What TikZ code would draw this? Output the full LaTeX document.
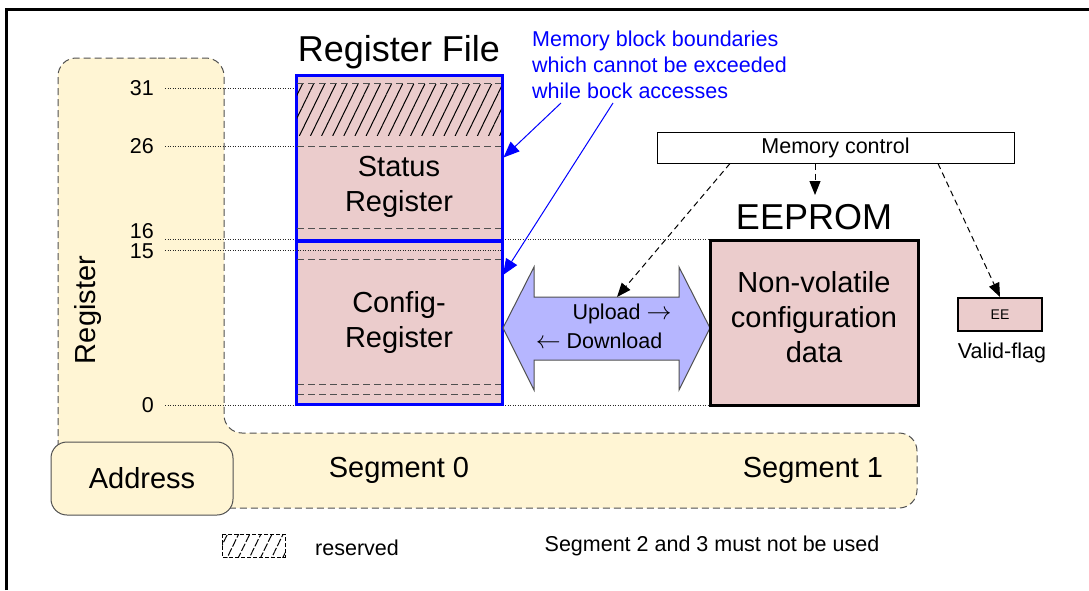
\documentclass[tikz,border=0pt]{standalone}
\usepackage{fontspec}
\setmainfont{Liberation Sans}
\usetikzlibrary{arrows.meta,patterns.meta}
\definecolor{regpink}{RGB}{235,204,204}
\definecolor{segyellow}{RGB}{255,245,212}
\definecolor{buslilac}{RGB}{182,182,255}
\definecolor{linegray}{RGB}{80,80,80}

\begin{document}
\begin{tikzpicture}[x=1pt, y=-1pt,
    every node/.style={inner sep=0pt},
    huge/.style={font=\fontsize{36}{40}\selectfont},
    large/.style={font=\fontsize{29}{35}\selectfont},
    small/.style={font=\fontsize{21.5}{26}\selectfont},
    tiny/.style={font=\fontsize{14}{16}\selectfont},
    segarea/.style={draw=linegray, fill=segyellow, line width=1pt, dash pattern=on 7pt off 4pt, rounded corners=18pt},
    regblock/.style={draw=blue, line width=3pt, fill=regpink, minimum width=206pt},
    sepline/.style={draw=linegray, line width=1pt, dash pattern=on 7pt off 4pt},
    dimline/.style={draw=black!85, line width=1pt, dash pattern=on 1pt off 1.5pt},
    hatch/.style={pattern={Lines[angle=64, distance=10pt, line width=1pt]}},
    note/.style={draw=blue, line width=1pt, -{Triangle[length=16pt, width=13pt]}},
    ctrl/.style={draw=black, line width=1pt, dash pattern=on 6pt off 4pt, -{Triangle[length=14pt, width=11pt]}}]
    \useasboundingbox (0,0) rectangle (1089,590);
    % outer frame
    \draw[line width=3pt] (6,590) -- (6,9) -- (1089,9);

    % segments
    \draw[segarea] (140,58) -- (224,58) -- (224,433) -- (917,433) -- (917,508) -- (58,508) -- (58,58) -- cycle;
    \node[draw=linegray, fill=segyellow, line width=1pt, rounded corners=16pt, minimum width=182pt, minimum height=73pt, large] (addr) at (142,478.5) {Address};
    \node[large] (seg0) at (399,470) {Segment 0};
    \node[large] (seg1) at (813,470) {Segment 1};
    \node[large, rotate=90] (reglabel) at (88,310) {Register};

    % address marks
    \node[small, anchor=east] (a31) at (154,88) {31};
    \node[small, anchor=east] (a26) at (154,146) {26};
    \node[small, anchor=east] (a16) at (154,231) {16};
    \node[small, anchor=east] (a15) at (154,251) {15};
    \node[small, anchor=east] (a0) at (154,405) {0};
    \draw[dimline] (165,88) -- (296,88);
    \draw[dimline] (165,146) -- (296,146);
    \draw[dimline] (165,239) -- (710,239);
    \draw[dimline] (165,405) -- (710,405);

    % register file
    \node[huge] (rftitle) at (399,52) {Register File};
    \node[regblock, minimum height=165pt] (status) at (399,157.5) {};
    \node[regblock, minimum height=164pt] (config) at (399,322) {};
    \fill[hatch] (297,84) rectangle (501,135);
    \draw[sepline] (297,83) -- (501,83);
    \draw[sepline] (297,146) -- (501,146);
    \draw[sepline] (297,228) -- (501,228);
    \draw[dimline] (165,250) -- (501,250);
    \draw[sepline] (297,259) -- (501,259);
    \draw[sepline] (297,384) -- (501,384);
    \draw[sepline] (297,394) -- (501,394);
    \draw[draw=blue, line width=3pt] (status.south west) -- (status.south east);
    \node[large, align=center] (statustxt) at (399,187) {Status\\Register};
    \node[large, align=center] (configtxt) at (399,322) {Config-\\Register};

    % boundaries note
    \node[small, text=blue, align=left, anchor=west] (bnote) at (532,65)
        {Memory block boundaries\\which cannot be exceeded\\while bock accesses};
    \coordinate (n1) at (561,103);
    \coordinate (n2) at (613,103);
    \draw[note] (n1) -- (status.east);
    \draw[note] (n2) -- (503,275);

    % transfer
    \draw[fill=buslilac, draw=linegray, line width=1pt] (503,328) -- (534,267) -- (534,297) -- (679,297) -- (679,267)
        -- (710,328) -- (679,390) -- (679,360) -- (534,360) -- (534,390) -- cycle;
    \coordinate (bustop) at (617,297);
    \node[small] (up) at (622,314) {Upload {\fontsize{30}{30}\selectfont$\rightarrow$}};
    \node[small] (down) at (599,341) {{\fontsize{30}{30}\selectfont$\leftarrow$} Download};

    % eeprom
    \node[draw=black, line width=1pt, fill=white, minimum width=357pt, minimum height=31pt, small] (memctl) at (835.5,147.5) {Memory control};
    \node[huge] (eetitle) at (814,217) {EEPROM};
    \node[draw=black, line width=3pt, fill=regpink, minimum width=208pt, minimum height=165pt] (eeprom) at (814,322.5) {};
    \node[large, align=center] (eetxt) at (814,317) {Non-volatile\\configuration\\data};
    \node[draw=black, line width=2pt, fill=regpink, minimum width=84pt, minimum height=33pt, tiny] (flag) at (1000,314.5) {EE};
    \node[small] (flagtxt) at (1002,353) {Valid-flag};
    \draw[ctrl] (memctl.south -| 730,0) -- (bustop);
    \draw[ctrl] (memctl.south -| 815,0) -- (815,195);
    \draw[ctrl] (memctl.south -| 938,0) -- (flag.north);

    % legend
    \draw[draw=black, line width=0.8pt, dash pattern=on 4pt off 2pt, hatch] (222,534) rectangle (285,557);
    \node[small, anchor=west] (resv) at (315,548) {reserved};
    \node[small] (segnote) at (712,546) {Segment 2 and 3 must not be used};
\end{tikzpicture}
\end{document}
